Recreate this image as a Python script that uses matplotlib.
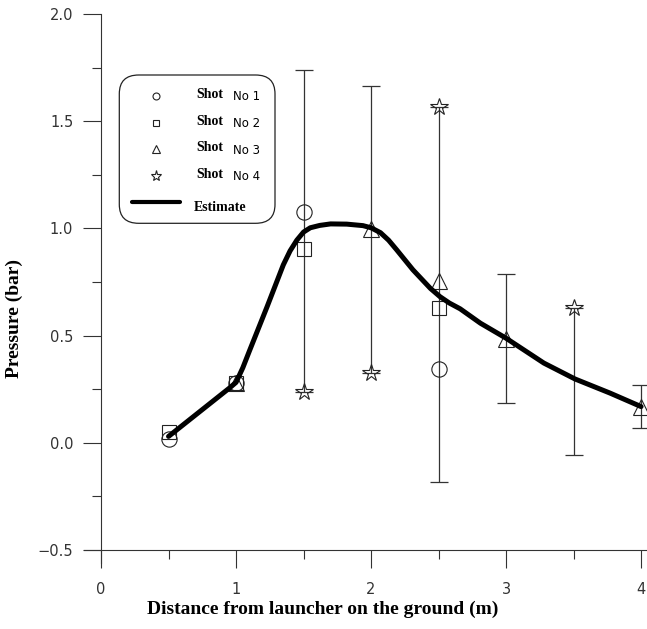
import matplotlib
matplotlib.use('Agg')
import matplotlib.pyplot as plt
import numpy as np
from matplotlib.patches import FancyBboxPatch
from matplotlib.lines import Line2D

# data
shot1_x = [0.5, 1.0, 1.5, 2.5]
shot1_y = [0.02, 0.28, 1.077, 0.344]
shot2_x = [0.5, 1.0, 1.5, 2.5]
shot2_y = [0.05, 0.28, 0.903, 0.628]
shot3_x = [1.0, 2.0, 2.5, 3.0, 4.0]
shot3_y = [0.28, 0.995, 0.757, 0.482, 0.165]
shot4_x = [1.5, 2.0, 2.5, 3.5]
shot4_y = [0.236, 0.328, 1.564, 0.631]

err_x = [1.5, 2.0, 2.5, 3.0, 3.5, 4.0]
err_lo = [0.236, 0.328, -0.182, 0.186, -0.055, 0.067]
err_hi = [1.737, 1.665, 1.564, 0.788, 0.631, 0.268]

est_x = [0.5, 0.75, 0.95, 1.0, 1.05, 1.1, 1.23, 1.35, 1.40, 1.45, 1.50, 1.55, 1.62,
         1.70, 1.82, 1.94, 2.0, 2.07, 2.13, 2.19, 2.31, 2.44, 2.51, 2.58, 2.66, 2.81,
         3.0, 3.28, 3.51, 3.77, 4.0]
est_y = [0.03, 0.155, 0.255, 0.282, 0.35, 0.43, 0.635, 0.83, 0.895, 0.945, 0.983,
         1.003, 1.014, 1.021, 1.02, 1.013, 1.003, 0.98, 0.945, 0.90, 0.807, 0.72,
         0.682, 0.652, 0.625, 0.558, 0.488, 0.372, 0.298, 0.232, 0.169]

xticks = [0, 1, 2, 3, 4]
xtick_labels = ['0', '1', '2', '3', '4']
yticks = [-0.5, 0.0, 0.5, 1.0, 1.5, 2.0]
ytick_labels = ['\u22120.5', '0.0', '0.5', '1.0', '1.5', '2.0']

legend_labels = ['No 1', 'No 2', 'No 3', 'No 4']

W, H = 647, 629
fig = plt.figure(figsize=(W / 100, H / 100), dpi=100)

def fx(p):
    return p / W

def fy(p):
    return 1 - p / H

ax = fig.add_axes([fx(83.5), fy(562.9), 1 - fx(83.5), fy(14) - fy(562.9)])
ax.set_xlim(-0.13, 4.044)
ax.set_ylim(-0.56, 2.0)

ink = '#222222'
# error bars
lo = np.array(err_lo)
hi = np.array(err_hi)
ax.errorbar(err_x, (lo + hi) / 2, yerr=(hi - lo) / 2, fmt='none', ecolor='#333333',
            elinewidth=0.9, capsize=6.5, capthick=0.9, zorder=2)

mk = dict(linestyle='none', markerfacecolor='none', markeredgecolor=ink,
          markeredgewidth=0.8, zorder=3)
ax.plot(shot1_x, shot1_y, marker='o', markersize=11, **mk)
ax.plot(shot2_x, shot2_y, marker='s', markersize=9.5, **mk)
ax.plot(shot3_x, shot3_y, marker='^', markersize=11, **mk)
ax.plot(shot4_x, shot4_y, marker='*', markersize=13, **mk)

ax.plot(est_x, est_y, color='black', linewidth=3.6, solid_capstyle='round',
        solid_joinstyle='round', zorder=4)

# axes styling
for s in ['top', 'right']:
    ax.spines[s].set_visible(False)
ax.spines['left'].set_position(('data', 0))
ax.spines['bottom'].set_position(('data', -0.5))
for s in ['left', 'bottom']:
    ax.spines[s].set_linewidth(0.8)
    ax.spines[s].set_color('#333333')

ax.set_xticks(xticks)
ax.set_xticklabels(xtick_labels)
ax.set_xticks(np.arange(0.5, 4, 1.0), minor=True)
ax.set_yticks(yticks)
ax.set_yticklabels(ytick_labels)
ax.set_yticks(np.arange(-0.25, 2.0, 0.5), minor=True)
ax.tick_params(which='major', direction='out', length=13, width=0.8, color='#333333',
               labelsize=10.5, labelcolor='#333333')
ax.tick_params(which='minor', direction='out', length=6.5, width=0.8, color='#333333')
ax.tick_params(axis='x', which='major', pad=10)
ax.tick_params(axis='y', which='major', pad=7)

fig.text(fx(322.5), fy(614), 'Distance from launcher on the ground (m)',
         family='Liberation Serif', weight='bold', size=14, ha='center', va='baseline')
fig.text(fx(14), fy(318), 'Pressure (bar)', family='Liberation Serif', weight='bold',
         size=14, rotation=90, ha='center', va='center')

# hand drawn legend box
box = FancyBboxPatch((fx(119.3), fy(223.3)), fx(275) - fx(119.3), fy(75) - fy(223.3),
                     boxstyle='round,pad=0,rounding_size=0.03', transform=fig.transFigure,
                     facecolor='white', edgecolor=ink, linewidth=0.9, zorder=5)
fig.patches.append(box)

rows = [96, 122.7, 149.3, 176]
markers = [('o', 5), ('s', 4.5), ('^', 5.5), ('*', 8)]
for (m, ms), ry, lab in zip(markers, rows, legend_labels):
    fig.lines.append(Line2D([fx(156)], [fy(ry)], marker=m, markersize=ms, linestyle='none',
                            markerfacecolor='none', markeredgecolor=ink, markeredgewidth=0.8,
                            transform=fig.transFigure, zorder=6))
    fig.text(fx(196), fy(ry - 1.5), 'Shot', family='Liberation Serif', weight='bold',
             size=10, ha='left', va='center', zorder=6)
    fig.text(fx(233), fy(ry + 1), lab, family='DejaVu Sans', size=8.5,
             ha='left', va='center', zorder=6)

fig.lines.append(Line2D([fx(131.7), fx(180)], [fy(201.7), fy(201.7)], color='black',
                        linewidth=3, solid_capstyle='round', transform=fig.transFigure, zorder=6))
fig.text(fx(193.3), fy(207.7), 'Estimate', family='Liberation Serif', weight='bold',
         size=10, ha='left', va='center', zorder=6)

fig.savefig('out.png', dpi=100)
